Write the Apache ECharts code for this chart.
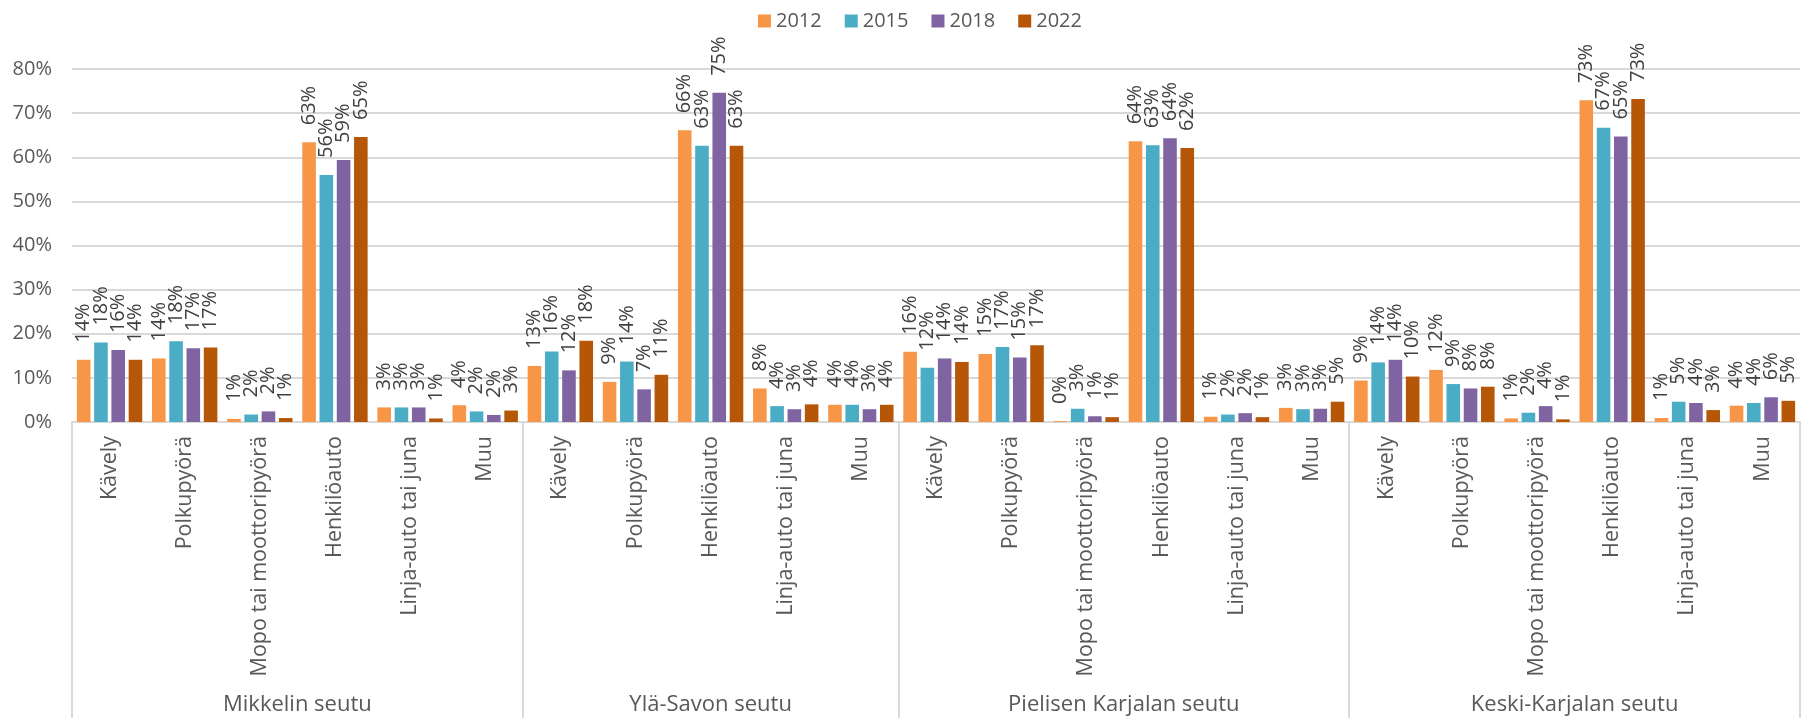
<!DOCTYPE html>
<html>
<head>
<meta charset="utf-8">
<script src="https://cdn.jsdelivr.net/npm/echarts@6/dist/echarts.min.js"></script>
<style>
html,body{margin:0;padding:0;background:#fff;}
#chart{width:1802px;height:718px;}
</style>
</head>
<body>
<div id="chart"></div>
<script>
// ---- data ----
const years = ['2012', '2015', '2018', '2022'];
const groups = ['Mikkelin seutu', 'Ylä-Savon seutu', 'Pielisen Karjalan seutu', 'Keski-Karjalan seutu'];
const modesMikkeli = ['Kävely', 'Polkupyörä', 'Mopo tai moottoripyörä', 'Henkilöauto', 'Linja-auto tai juna', 'Muu'];
const modesYlaSavo = ['Kävely', 'Polkupyörä', 'Henkilöauto', 'Linja-auto tai juna', 'Muu'];
const modesPielinen = ['Kävely', 'Polkupyörä', 'Mopo tai moottoripyörä', 'Henkilöauto', 'Linja-auto tai juna', 'Muu'];
const modesKeski = ['Kävely', 'Polkupyörä', 'Mopo tai moottoripyörä', 'Henkilöauto', 'Linja-auto tai juna', 'Muu'];

// values in percent, one per category in order (Mikkeli | Ylä-Savo | Pielinen | Keski)
const v2012 = [14.1, 14.4, 0.7, 63.4, 3.3, 3.8,   12.7, 9.1, 66.1, 7.6, 3.9,   15.9, 15.4, 0.2, 63.6, 1.2, 3.2,   9.4, 11.8, 0.8, 72.9, 0.9, 3.7];
const v2015 = [18.0, 18.3, 1.7, 56.0, 3.3, 2.4,   16.0, 13.7, 62.6, 3.6, 3.9,   12.3, 17.0, 3.0, 62.7, 1.7, 2.9,   13.5, 8.6, 2.1, 66.7, 4.6, 4.3];
const v2018 = [16.3, 16.7, 2.4, 59.4, 3.3, 1.6,   11.7, 7.4, 74.6, 2.9, 2.9,   14.4, 14.6, 1.3, 64.3, 2.0, 3.0,   14.1, 7.6, 3.6, 64.7, 4.3, 5.6];
const v2022 = [14.1, 16.9, 0.9, 64.6, 0.8, 2.6,   18.4, 10.7, 62.6, 4.0, 3.9,   13.6, 17.4, 1.1, 62.1, 1.1, 4.6,   10.3, 8.0, 0.6, 73.2, 2.7, 4.8];

const yTicks = [0, 10, 20, 30, 40, 50, 60, 70, 80];
const colors = ['#F79646', '#4BACC6', '#8064A2', '#B65708'];

// ---- build ----
const groupModes = [modesMikkeli, modesYlaSavo, modesPielinen, modesKeski];
const categories = [].concat(...groupModes);
const boundaries = [0];
const centers = [];
const centerName = {};
groupModes.forEach((m, i) => {
  const start = boundaries[boundaries.length - 1];
  const end = start + m.length;
  boundaries.push(end);
  const c = (start + end) / 2;
  centers.push(c);
  centerName[c] = groups[i];
});
const total = categories.length;
const seriesValues = [v2012, v2015, v2018, v2022];

const FONT = '"Open Sans", "Noto Sans", sans-serif';
const chart = echarts.init(document.getElementById('chart'), null, {renderer: 'canvas'});
chart.setOption({
  animation: false,
  backgroundColor: '#ffffff',
  color: colors,
  legend: {
    data: years,
    top: 6,
    left: 753,
    itemWidth: 13,
    itemHeight: 13,
    itemGap: 23,
    icon: 'rect',
    textStyle: {fontFamily: FONT, fontSize: 20, color: '#595959'}
  },
  grid: {left: 72, right: 2, top: 69, bottom: 296, containLabel: false},
  xAxis: [
    {
      type: 'category',
      data: categories,
      position: 'bottom',
      axisLine: {show: true, lineStyle: {color: '#d9d9d9', width: 2}},
      axisTick: {show: false},
      axisLabel: {
        interval: 0, rotate: 90, margin: 14,
        fontFamily: FONT, fontSize: 21.5, color: '#595959'
      },
      splitLine: {show: false}
    },
    {
      type: 'value',
      min: 0, max: total,
      position: 'bottom',
      offset: 0,
      axisLine: {show: false},
      splitLine: {show: false},
      axisTick: {show: true, customValues: boundaries, length: 296, inside: false,
        lineStyle: {color: '#d9d9d9', width: 2}},
      axisLabel: {
        customValues: centers,
        margin: 272,
        formatter: v => centerName[v] || '',
        fontFamily: '"Liberation Sans Narrow", "Open Sans", sans-serif', fontSize: 22, color: '#595959'
      }
    }
  ],
  yAxis: {
    type: 'value',
    min: yTicks[0], max: yTicks[yTicks.length - 1], interval: 10,
    axisLine: {show: false},
    axisTick: {show: false},
    axisLabel: {formatter: '{value}%', margin: 20, fontFamily: FONT, fontSize: 20, color: '#595959'},
    splitLine: {lineStyle: {color: '#d9d9d9', width: 2}}
  },
  series: years.map((y, i) => ({
    name: y,
    type: 'bar',
    xAxisIndex: 0,
    data: seriesValues[i],
    barCategoryGap: '13%',
    barGap: '27%',
    itemStyle: {color: colors[i]},
    label: {
      show: true,
      position: 'top',
      rotate: 90,
      align: 'left',
      verticalAlign: 'middle',
      distance: 17,
      formatter: p => Math.round(p.value) + '%',
      fontFamily: FONT, fontSize: 20, color: '#404040'
    }
  }))
});
</script>
</body>
</html>
